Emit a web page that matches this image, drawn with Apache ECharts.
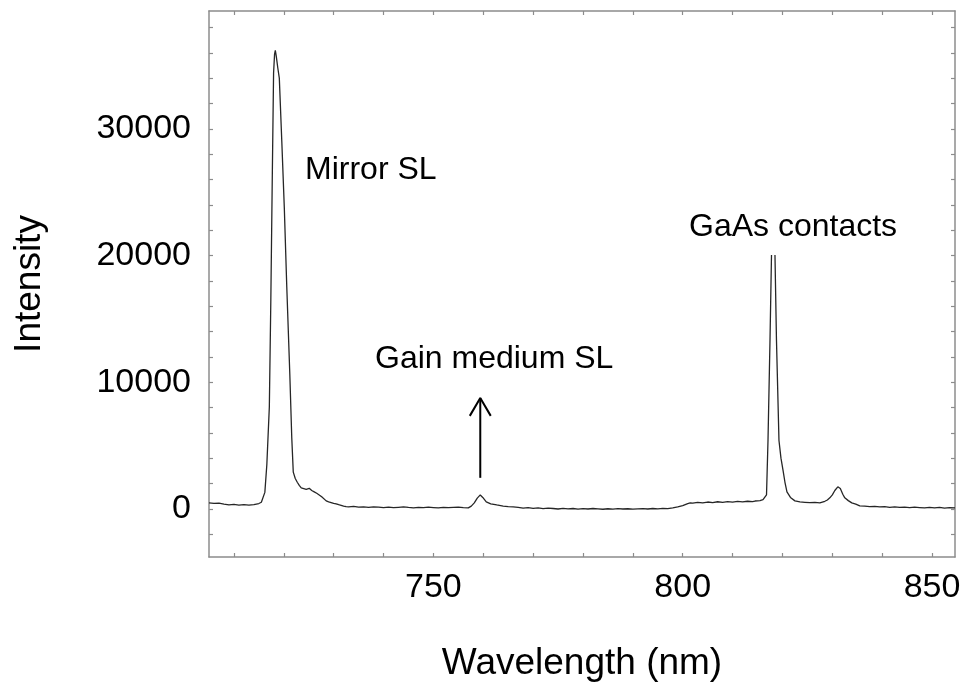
<!DOCTYPE html>
<html>
<head>
<meta charset="utf-8">
<title>Emission spectrum</title>
<script src="https://cdn.jsdelivr.net/npm/echarts@6/dist/echarts.min.js"></script>
<style>
  html, body { margin: 0; padding: 0; background: #ffffff; }
  #chart { width: 966px; height: 686px; }
</style>
</head>
<body>
<div id="chart"></div>
<script>
// Measured spectrum: [wavelength (nm), intensity (counts)]
const spectrum = [
  [705, 480], [706, 430], [707, 450], [708, 380], [709, 320], [710, 350],
  [711, 300], [712, 330], [713, 290], [714, 340], [715, 420], [715.5, 520],
  [715.8, 620], [716.2, 1300], [716.6, 3500], [717.1, 8050], [717.4, 16500],
  [717.7, 26500], [717.95, 34400], [718.15, 35900], [718.3, 36200], [718.5, 35700],
  [718.8, 34800], [719.1, 34000], [719.6, 29000], [720.1, 23800], [720.6, 17500],
  [721.2, 10700], [721.6, 5600], [721.9, 2900], [722.3, 2400], [722.7, 2100],
  [723.1, 1850], [723.5, 1650], [724.0, 1600], [724.5, 1540], [725.1, 1620],
  [725.6, 1450], [726.1, 1340], [726.6, 1230], [727.1, 1100], [727.6, 950],
  [728.0, 800], [728.5, 630], [729.0, 560], [729.5, 500], [730.0, 440],
  [730.5, 400], [731.0, 330], [731.5, 280], [732.0, 220], [732.5, 170],
  [733, 160], [734, 190], [735, 130], [736, 150], [737, 110], [738, 160],
  [739, 140], [740, 100], [741, 130], [742, 90], [743, 120], [744, 150],
  [745, 110], [746, 80], [747, 120], [748, 90], [749, 130], [750, 100],
  [751, 70], [752, 110], [753, 90], [754, 120], [755, 140], [756, 100],
  [757, 80], [757.6, 220], [758.2, 470], [758.8, 850], [759.4, 1100],
  [759.9, 900], [760.6, 550], [761.5, 400], [762.7, 310], [764, 220],
  [765, 180], [766, 150], [767, 110], [768, 60], [769, 90], [770, 40],
  [771, 70], [772, 20], [773, 60], [774, 30], [775, -10], [776, 40],
  [777, 0], [778, 30], [779, -20], [780, 20], [781, -10], [782, 30],
  [783, 0], [784, -30], [785, 10], [786, -20], [787, 20], [788, -10],
  [789, 10], [790, -20], [791, 0], [792, 20], [793, -10], [794, 30],
  [795, 0], [796, 40], [797, 20], [798, 80], [799, 150], [800, 260],
  [801, 420], [801.5, 480], [802, 450], [803, 520], [804, 480], [805, 540],
  [806, 500], [807, 560], [808, 520], [809, 570], [810, 530], [811, 590],
  [812, 550], [813, 600], [814, 570], [814.5, 620], [815.5, 650], [816.1, 720],
  [816.5, 850], [816.8, 1100], [817.1, 5400], [817.5, 13300], [817.8, 20000],
  [818.1, 23000], [818.5, 20000], [818.8, 13300], [819.3, 5400], [819.7, 4000],
  [820.1, 3080], [820.5, 2100], [820.9, 1340], [821.6, 900], [822.5, 630],
  [823.5, 550], [824.5, 520], [825.5, 490], [826.5, 510], [827.5, 470],
  [828.5, 600], [829.0, 700], [829.5, 870], [830.0, 1100], [830.5, 1450],
  [831.1, 1740], [831.6, 1600], [832.1, 1150], [832.5, 870], [833.2, 650],
  [833.9, 470], [834.7, 380], [835.5, 240], [836.5, 220], [837.5, 180],
  [838.5, 200], [839.5, 150], [840.5, 170], [841.5, 120], [842.5, 160],
  [843.5, 110], [844.5, 140], [845.5, 90], [846.5, 130], [847.5, 100],
  [848.5, 70], [849.5, 110], [850.5, 80], [851.5, 120], [852.5, 60],
  [853.5, 100], [854.6, 70]
];

// Axis extents and tick positions
const xRange = [705, 854.6];
const yRange = [-3800, 39300];
const xTicks = [710, 720, 730, 740, 750, 760, 770, 780, 790, 800, 810, 820, 830, 840, 850];
const xLabels = [750, 800, 850];
const yTicks = [-2000, 0, 2000, 4000, 6000, 8000, 10000, 12000, 14000, 16000, 18000,
  20000, 22000, 24000, 26000, 28000, 30000, 32000, 34000, 36000, 38000];
const yLabels = [0, 10000, 20000, 30000];

// Arrow pointing at the gain-medium bump (wavelength, intensity)
const arrowShaft = [[759.4, 2450], [759.4, 8760]];
const arrowHead = [[757.3, 7340], [759.4, 8760], [761.5, 7340]];

const FONT = '"Liberation Sans", Arial, Helvetica, sans-serif';
const frameColor = '#8c8c8c';
const plain = (v) => String(v);

const chart = echarts.init(document.getElementById('chart'), null, { renderer: 'canvas' });

function frameLine() {
  return { show: true, onZero: false, lineStyle: { color: frameColor, width: 1.5 } };
}
function frameTicks(values) {
  return { show: true, inside: true, length: 4, customValues: values,
    lineStyle: { color: frameColor, width: 1.2 } };
}

chart.setOption({
  animation: false,
  backgroundColor: '#ffffff',
  grid: { left: 209, right: 11, top: 11, bottom: 129, containLabel: false,
    outerBoundsMode: 'none' },
  xAxis: [
    {
      type: 'value', min: xRange[0], max: xRange[1], position: 'bottom',
      name: 'Wavelength (nm)', nameLocation: 'middle', nameGap: 88,
      nameTextStyle: { fontFamily: FONT, fontSize: 37, color: '#000' },
      axisLine: frameLine(), axisTick: frameTicks(xTicks), splitLine: { show: false },
      axisLabel: { show: true, customValues: xLabels, margin: 14, formatter: plain,
        fontFamily: FONT, fontSize: 34, color: '#000' },
    },
    {
      type: 'value', min: xRange[0], max: xRange[1], position: 'top',
      axisLine: frameLine(), axisTick: frameTicks(xTicks), splitLine: { show: false },
      axisLabel: { show: false },
    },
  ],
  yAxis: [
    {
      type: 'value', min: yRange[0], max: yRange[1], position: 'left',
      name: 'Intensity', nameLocation: 'middle', nameGap: 161, nameRotate: 90,
      nameTextStyle: { fontFamily: FONT, fontSize: 37, color: '#000' },
      axisLine: frameLine(), axisTick: frameTicks(yTicks), splitLine: { show: false },
      axisLabel: { show: true, customValues: yLabels, margin: 18, formatter: plain,
        fontFamily: FONT, fontSize: 34, color: '#000' },
    },
    {
      type: 'value', min: yRange[0], max: yRange[1], position: 'right',
      axisLine: frameLine(), axisTick: frameTicks(yTicks), splitLine: { show: false },
      axisLabel: { show: false },
    },
  ],
  series: [
    {
      type: 'line', data: spectrum, showSymbol: false, symbol: 'none',
      lineStyle: { color: '#262626', width: 1.3 }, z: 2,
    },
    {
      type: 'line', data: arrowShaft, showSymbol: false, symbol: 'none',
      lineStyle: { color: '#000', width: 2 }, z: 3,
    },
    {
      type: 'line', data: arrowHead, showSymbol: false, symbol: 'none',
      lineStyle: { color: '#000', width: 2 }, z: 3,
    },
  ],
  graphic: [
    { type: 'rect', z: 50, shape: { x: 684, y: 204, width: 220, height: 51 },
      style: { fill: '#ffffff' } },
    { type: 'text', z: 51, left: 305, top: 154,
      style: { text: 'Mirror SL', font: '32px ' + FONT, fill: '#000' } },
    { type: 'text', z: 51, left: 689, top: 211,
      style: { text: 'GaAs contacts', font: '32px ' + FONT, fill: '#000' } },
    { type: 'text', z: 51, left: 375, top: 343,
      style: { text: 'Gain medium SL', font: '32px ' + FONT, fill: '#000' } },
  ],
});
</script>
</body>
</html>
